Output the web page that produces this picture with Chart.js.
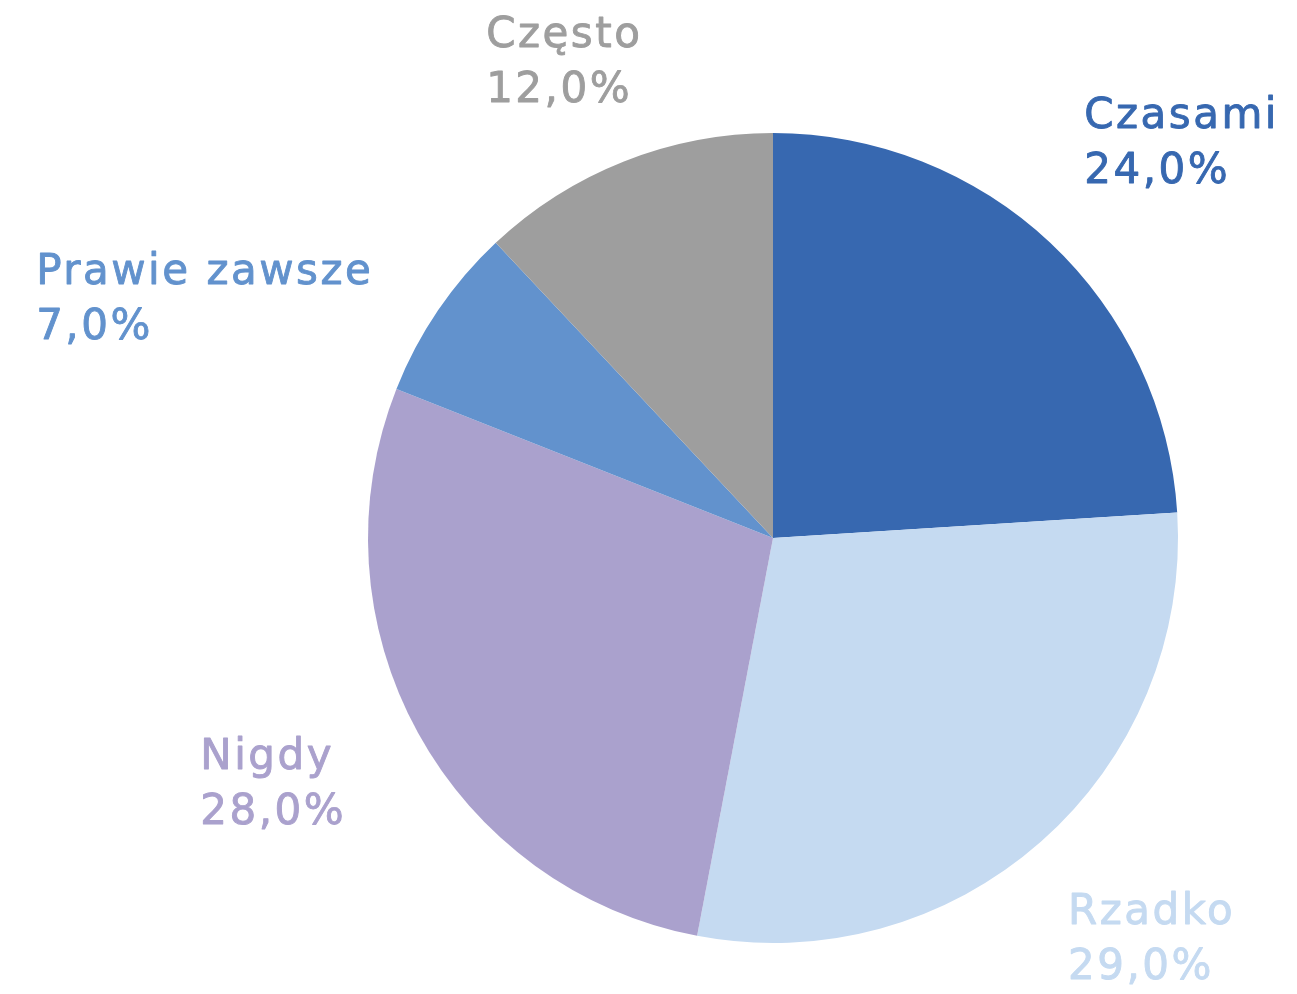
<!DOCTYPE html>
<html>
<head>
<meta charset="utf-8">
<script src="https://cdn.jsdelivr.net/npm/chart.js@4"></script>
<style>
  html, body { margin: 0; padding: 0; background: #fff; }
  #wrap { width: 1297px; height: 994px; position: relative; }
</style>
</head>
<body>
<div id="wrap"><canvas id="pieChart"></canvas></div>
<script>
const categories = ['Czasami', 'Rzadko', 'Nigdy', 'Prawie zawsze', 'Często'];
const shares = [24.0, 29.0, 28.0, 7.0, 12.0];
const sliceColors = ['#3768B0', '#C5DAF1', '#AAA1CD', '#6292CD', '#9E9E9E'];

// label placement: distance from centre (in radii) plus a small nudge in px
const labelDist = 1.38;
const labelNudge = [[26, 10], [9, -20], [-10, -25], [-106, 73], [-3, 42]];

const outsideLabels = {
    id: 'outsideLabels',
    afterDatasetsDraw(chart) {
        const ctx = chart.ctx;
        const meta = chart.getDatasetMeta(0);
        ctx.save();
        ctx.font = '42px "DejaVu Sans", sans-serif';
        ctx.letterSpacing = '2.5px';
        ctx.textBaseline = 'alphabetic';
        ctx.textAlign = 'left';
        ctx.lineWidth = 0.9;
        ctx.lineJoin = 'round';
        meta.data.forEach(function (arc, i) {
            const mid = (arc.startAngle + arc.endAngle) / 2;
            const r = arc.outerRadius * labelDist;
            const cx = arc.x + Math.cos(mid) * r + labelNudge[i][0];
            const cy = arc.y + Math.sin(mid) * r + labelNudge[i][1];
            const line1 = categories[i];
            const line2 = shares[i].toFixed(1).replace('.', ',') + '%';
            const w = Math.max(ctx.measureText(line1).width, ctx.measureText(line2).width);
            const x = cx - w / 2;
            ctx.fillStyle = sliceColors[i];
            ctx.strokeStyle = sliceColors[i];
            [[line1, cy - 27.5 + 14.5], [line2, cy + 27.5 + 14.5]].forEach(function (ln) {
                ctx.fillText(ln[0], x, ln[1]);
                ctx.strokeText(ln[0], x, ln[1]);
            });
        });
        ctx.restore();
    },
};

new Chart(document.getElementById('pieChart'), {
    type: 'pie',
    data: {
        labels: categories,
        datasets: [
            {
                data: shares,
                backgroundColor: sliceColors,
                borderColor: sliceColors,
                borderWidth: 0,
            },
        ],
    },
    options: {
        responsive: true,
        maintainAspectRatio: false,
        animation: false,
        layout: {
            padding: { left: 249, right: 0, top: 133, bottom: 51 },
        },
        plugins: {
            legend: { display: false },
            tooltip: { enabled: false },
        },
    },
    plugins: [outsideLabels],
});
</script>
</body>
</html>
